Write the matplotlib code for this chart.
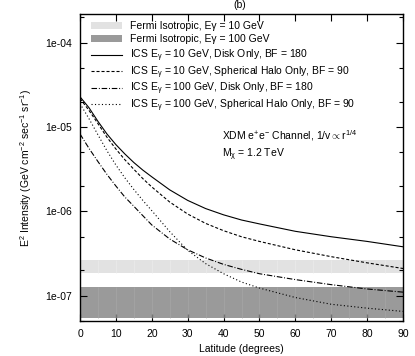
import matplotlib
matplotlib.use("Agg")
import matplotlib.pyplot as plt
import numpy as np

# ---- data ----
lat = [0, 2.5, 5, 7.5, 10, 12.5, 15, 17.5, 20, 25, 30, 35, 40, 45, 50, 60, 70, 80, 90]
ics10_disk = [2.29e-5, 1.70e-5, 1.17e-5, 8.3e-6, 6.2e-6, 4.8e-6, 3.8e-6, 3.09e-6, 2.57e-6,
              1.80e-6, 1.35e-6, 1.08e-6, 9.1e-7, 7.9e-7, 7.1e-7, 5.8e-7, 5.0e-7, 4.4e-7, 3.8e-7]
ics10_halo = [2.19e-5, 1.58e-5, 1.10e-5, 7.6e-6, 5.5e-6, 4.1e-6, 3.16e-6, 2.45e-6, 1.95e-6,
              1.29e-6, 9.3e-7, 7.2e-7, 5.9e-7, 5.0e-7, 4.4e-7, 3.5e-7, 2.9e-7, 2.45e-7, 2.1e-7]
ics100_disk = [8.3e-6, 5.6e-6, 3.9e-6, 2.75e-6, 2.0e-6, 1.48e-6, 1.15e-6, 8.9e-7, 6.9e-7,
               4.7e-7, 3.5e-7, 2.8e-7, 2.35e-7, 2.05e-7, 1.82e-7, 1.55e-7, 1.35e-7, 1.2e-7, 1.1e-7]
ics100_halo = [1.9e-5, 1.26e-5, 8.1e-6, 5.25e-6, 3.55e-6, 2.5e-6, 1.82e-6, 1.35e-6, 1.02e-6,
               5.75e-7, 3.45e-7, 2.4e-7, 1.82e-7, 1.45e-7, 1.23e-7, 9.5e-8, 7.9e-8, 7.1e-8, 6.5e-8]

band_x = [0, 90]
fermi10_low, fermi10_high = 1.85e-7, 2.64e-7
fermi100_low, fermi100_high = 5.4e-8, 1.26e-7

labels = [
    "Fermi Isotropic, E\u03b3 = 10 GeV",
    "Fermi Isotropic, E\u03b3 = 100 GeV",
    r"ICS E$_\gamma$ = 10 GeV, Disk Only, BF = 180",
    r"ICS E$_\gamma$ = 10 GeV, Spherical Halo Only, BF = 90",
    r"ICS E$_\gamma$ = 100 GeV, Disk Only, BF = 180",
    r"ICS E$_\gamma$ = 100 GeV, Spherical Halo Only, BF = 90",
]
xticks = [0, 10, 20, 30, 40, 50, 60, 70, 80, 90]
yticks = [1e-7, 1e-6, 1e-5, 1e-4]
ytick_labels = ["1e-07", "1e-06", "1e-05", "1e-04"]

# ---- style ----
plt.rcParams['font.family'] = ['Liberation Sans', 'DejaVu Sans']
plt.rcParams['mathtext.fontset'] = 'custom'
plt.rcParams['mathtext.rm'] = 'Liberation Sans'
plt.rcParams['mathtext.it'] = 'Liberation Sans'
plt.rcParams['mathtext.bf'] = 'Liberation Sans'
plt.rcParams['lines.scale_dashes'] = False
fs = 7.5

fig = plt.figure(figsize=(4.15, 3.56), dpi=100)
ax = fig.add_axes([80/415, 1-321/356, (403-80)/415, (321-14)/356])

light = '#e2e2e2'
dark = '#9a9a9a'
b1 = ax.fill_between(band_x, [fermi10_low]*2, [fermi10_high]*2, color=light, lw=0)
b2 = ax.fill_between(band_x, [fermi100_low]*2, [fermi100_high]*2, color=dark, lw=0)
seams = np.arange(5, 90, 5)
ax.vlines(seams, fermi10_low, fermi10_high, color='#ebebeb', lw=0.5)
ax.vlines(seams, fermi100_low, fermi100_high, color='#a6a6a6', lw=0.5)

lw = 0.8
l1, = ax.plot(lat, ics10_disk, color='black', lw=lw)
l2, = ax.plot(lat, ics10_halo, color='black', lw=lw, dashes=(2.2, 1.4))
l3, = ax.plot(lat, ics100_disk, color='black', lw=lw, dashes=(4.0, 1.3, 0.7, 1.3))
l4, = ax.plot(lat, ics100_halo, color='black', lw=lw, dashes=(0.8, 1.7))

ax.set_yscale('log')
ax.set_xlim(0, 90)
ax.set_ylim(5e-8, 2.2e-4)
ax.set_xticks(xticks)
ax.set_xticklabels([str(t) for t in xticks], fontsize=fs)
ax.set_yticks(yticks)
ax.set_yticklabels(ytick_labels, fontsize=fs)
ax.yaxis.set_minor_locator(matplotlib.ticker.LogLocator(base=10, subs=(2.0, 5.0)))
ax.yaxis.set_minor_formatter(matplotlib.ticker.NullFormatter())
ax.tick_params(which='both', direction='in', top=True, right=True, width=0.8)
ax.tick_params(which='major', length=5, pad=6)
ax.tick_params(which='minor', length=3)
for s in ax.spines.values():
    s.set_linewidth(1.0)

ax.set_xlabel("Latitude (degrees)", fontsize=fs, labelpad=3)
ax.set_ylabel(r"E$^2$ Intensity (GeV cm$^{-2}$ sec$^{-1}$ sr$^{-1}$)", fontsize=fs, labelpad=8)

common = dict(frameon=False, fontsize=fs, handlelength=2.9, handletextpad=0.8,
              borderaxespad=0, borderpad=0, loc='upper left')
leg1 = ax.legend([b1, b2], labels[:2], bbox_to_anchor=(0.035, 0.976),
                 labelspacing=0.28, **common)
ax.add_artist(leg1)
leg2 = ax.legend([l1, l2, l3, l4], labels[2:], bbox_to_anchor=(0.035, 0.889),
                 labelspacing=0.0, **common)

ax.text(0.44, 0.605, r"XDM e$^{+}$e$^{-}$ Channel, 1/v$\propto$r$^{1/4}$", transform=ax.transAxes,
        fontsize=fs, ha='left', va='center')
ax.text(0.44, 0.54, r"M$_\chi$ = 1.2 TeV", transform=ax.transAxes,
        fontsize=fs, ha='left', va='center')

fig.text(240/415, 1-5/356, "(b)", fontsize=fs, ha='center', va='center')

fig.savefig("out.png", dpi=100)
